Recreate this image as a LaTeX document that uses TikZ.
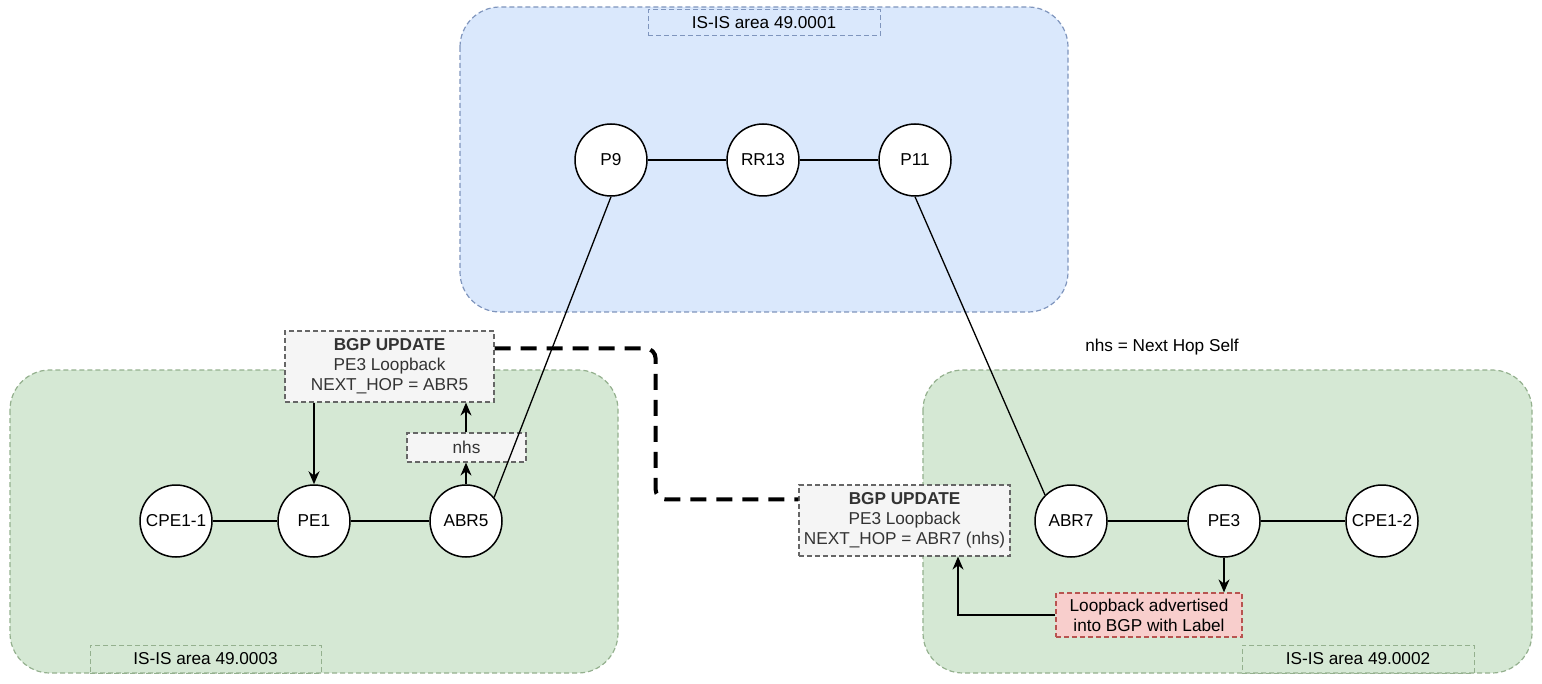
\documentclass[tikz,border=0pt]{standalone}
\usepackage{fontspec}
\setmainfont{Liberation Sans}
\usetikzlibrary{arrows.meta,calc}
\definecolor{bluefill}{HTML}{DAE8FC}
\definecolor{blueline}{HTML}{7F95BD}
\definecolor{greenfill}{HTML}{D5E8D4}
\definecolor{greenline}{HTML}{94B08E}
\definecolor{grayfill}{HTML}{F5F5F5}
\definecolor{grayline}{HTML}{666666}
\definecolor{graytext}{HTML}{333333}
\definecolor{redfill}{HTML}{F8CECC}
\definecolor{redline}{HTML}{B85450}
\tikzset{
  txt/.style={font=\fontsize{8.6}{10}\selectfont},
  area/.style={rounded corners=20pt, line width=0.6pt, dash pattern=on 2.5pt off 1.5pt},
  router/.style={txt, circle, draw=black, fill=white, line width=0.75pt, minimum size=36pt, inner sep=0pt},
  arealabel/.style={txt, draw, line width=0.5pt, dash pattern=on 2.5pt off 1.5pt, inner sep=0pt},
  bgpbox/.style={txt, draw=grayline, fill=grayfill, text=graytext, line width=0.6pt, dash pattern=on 2.5pt off 1.5pt, inner sep=0pt, align=center},
  loopbox/.style={txt, draw=redline, fill=redfill, line width=0.6pt, dash pattern=on 2.5pt off 1.5pt, inner sep=0pt, align=center},
  link/.style={line width=0.65pt},
  arr/.style={line width=0.75pt, -{Stealth[length=6.5pt,width=5.5pt]}},
  bgpflow/.style={line width=2pt, dash pattern=on 8pt off 5pt, rounded corners=5pt}
}
\begin{document}
\begin{tikzpicture}[x=0.5pt,y=-0.5pt]
\useasboundingbox (0,0) rectangle (1542,684);
% areas
\draw[area, fill=bluefill, draw=blueline] (460,7) rectangle (1068,312);
\draw[area, fill=greenfill, draw=greenline] (10,370) rectangle (618,673);
\draw[area, fill=greenfill, draw=greenline] (923,370) rectangle (1532,673);
% area labels
\node[arealabel, draw=blueline, minimum width=116pt, minimum height=13pt] (lab1) at (764,23) {IS-IS area 49.0001};
\node[arealabel, draw=greenline, minimum width=115.5pt, minimum height=14pt] (lab3) at (205.5,659) {IS-IS area 49.0003};
\node[arealabel, draw=greenline, minimum width=116pt, minimum height=14pt] (lab2) at (1358,659) {IS-IS area 49.0002};
% routers
\node[router] (p9) at (611,160) {P9};
\node[router] (rr13) at (763,160) {RR13};
\node[router] (p11) at (915,160) {P11};
\node[router] (cpe11) at (176,521) {CPE1-1};
\node[router] (pe1) at (314,521) {PE1};
\node[router] (abr5) at (466,521) {ABR5};
\node[router] (abr7) at (1071,521) {ABR7};
\node[router] (pe3) at (1224,521) {PE3};
\node[router] (cpe12) at (1382,521) {CPE1-2};
% info boxes
\node[bgpbox, minimum width=104.5pt, minimum height=35.5pt] (bgpl) at (389.5,366.5) {\textbf{BGP UPDATE}\\PE3 Loopback\\NEXT\_HOP = ABR5};
\node[bgpbox, minimum width=59.5pt, minimum height=14.5pt] (nhs) at (466.5,447.5) {nhs};
\node[bgpbox, minimum width=105.5pt, minimum height=35.5pt] (bgpr) at (904.5,520.5) {\textbf{BGP UPDATE}\\PE3 Loopback\\NEXT\_HOP = ABR7 (nhs)};
\node[loopbox, minimum width=93pt, minimum height=22pt] (loop) at (1149,615) {Loopback advertised\\into BGP with Label};
\node[txt] (note) at (1162,347) {nhs = Next Hop Self};
% links
\draw[link] (p9) -- (rr13);
\draw[link] (rr13) -- (p11);
\draw[link] (cpe11) -- (pe1);
\draw[link] (pe1) -- (abr5);
\draw[link] (abr7) -- (pe3);
\draw[link] (pe3) -- (cpe12);
\draw[link] (p9.south) -- (abr5.40);
\draw[link] (p11.south) -- (abr7.135);
% arrows
\draw[arr] (bgpl.south -| pe1) -- (pe1.north);
\draw[arr] (abr5.north) -- (nhs.south -| abr5);
\draw[arr] (nhs.north -| abr5) -- (bgpl.south -| abr5);
\draw[arr] (pe3.south) -- (loop.north -| pe3);
\coordinate (bgprin) at ($(bgpr.south)+(53.5,0)$);
\draw[arr] (loop.west) -| (bgprin);
% BGP propagation
\coordinate (flowstart) at ($(bgpl.north east)+(0,18)$);
\coordinate (flowend) at ($(bgpr.north west)+(0,15)$);
\draw[bgpflow] (flowstart) -- ++(161,0) |- (flowend);
\end{tikzpicture}
\end{document}
